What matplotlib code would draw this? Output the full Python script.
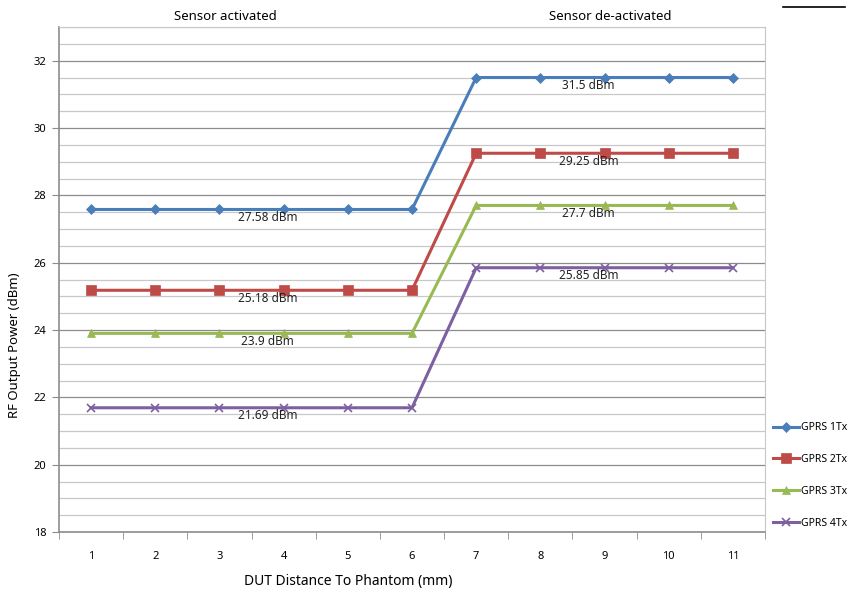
import numpy as np
from matplotlib import pyplot as plt
from matplotlib.ticker import MultipleLocator, FixedLocator

plt.rcParams['font.family'] = ['Noto Sans', 'DejaVu Sans']

distance = [1, 2, 3, 4, 5, 6, 7, 8, 9, 10, 11]
gprs_1tx = [27.58, 27.58, 27.58, 27.58, 27.58, 27.58, 31.5, 31.5, 31.5, 31.5, 31.5]
gprs_2tx = [25.18, 25.18, 25.18, 25.18, 25.18, 25.18, 29.25, 29.25, 29.25, 29.25, 29.25]
gprs_3tx = [23.9, 23.9, 23.9, 23.9, 23.9, 23.9, 27.7, 27.7, 27.7, 27.7, 27.7]
gprs_4tx = [21.69, 21.69, 21.69, 21.69, 21.69, 21.69, 25.85, 25.85, 25.85, 25.85, 25.85]
names = ['GPRS 1Tx', 'GPRS 2Tx', 'GPRS 3Tx', 'GPRS 4Tx']

series = [gprs_1tx, gprs_2tx, gprs_3tx, gprs_4tx]
colors = ['#4A7EBB', '#BE4B48', '#98B954', '#7D60A0']
markers = ['D', 's', '^', 'x']
msizes = [5, 7, 6, 6]

fig = plt.figure(figsize=(8.52, 5.94), dpi=100)
ax = fig.add_axes([59/852, 1-532/594, (765-59)/852, (532-27)/594])

for s, c, m, ms, n in zip(series, colors, markers, msizes, names):
    ax.plot(distance, s, color=c, marker=m, ms=ms, lw=2.2, label=n,
            markeredgewidth=1.2 if m == 'x' else 0.5, zorder=3)

# value labels (one on each level)
for s in series:
    ax.text(3.75, s[0] - 0.05, '%g dBm' % s[0], ha='center', va='top', fontsize=8.5, color='#222222', zorder=4)
    ax.text(8.75, s[-1] - 0.05, '%g dBm' % s[-1], ha='center', va='top', fontsize=8.5, color='#222222', zorder=4)

ax.set_xlim(0.5, 11.5)
ax.set_ylim(18, 33)
ax.yaxis.set_major_locator(MultipleLocator(2))
ax.yaxis.set_minor_locator(MultipleLocator(0.5))
ax.grid(which='major', axis='y', color='#8c8c8c', lw=0.9, zorder=0)
ax.grid(which='minor', axis='y', color='#c8c8c8', lw=0.9, zorder=0)
ax.set_yticks([18, 20, 22, 24, 26, 28, 30, 32])
ax.set_yticklabels(['18', '20', '22', '24', '26', '28', '30', '32'])

ax.set_xticks(distance)
ax.set_xticklabels([str(d) for d in distance])
ax.xaxis.set_minor_locator(FixedLocator(np.arange(0.5, 11.6, 1)))
ax.tick_params(axis='x', which='major', length=0, pad=14, labelsize=8)
ax.tick_params(axis='x', which='minor', length=5, color='#8c8c8c', direction='out')
ax.tick_params(axis='y', which='major', length=5, color='#8c8c8c', labelsize=8, pad=4)
ax.tick_params(axis='y', which='minor', length=0)

for side in ['top', 'right']:
    ax.spines[side].set_color('#c8c8c8')
for side in ['left', 'bottom']:
    ax.spines[side].set_color('#8c8c8c')
    ax.spines[side].set_linewidth(1.2)

fig.text(225/852, 1-17/594, 'Sensor activated', ha='center', va='center', fontsize=9.5)
fig.text(610/852, 1-17/594, 'Sensor de-activated', ha='center', va='center', fontsize=9.5)
fig.text(348/852, 1-582/594, 'DUT Distance To Phantom (mm)', ha='center', va='center', fontsize=10, fontweight='semibold')
fig.text(15/852, 1-345/594, 'RF Output Power (dBm)', ha='center', va='center', rotation=90, fontsize=9.5)
fig.add_artist(plt.Line2D([783/852, 845/852], [1-7/594, 1-7/594], color='black', lw=1.2))

fig.legend(loc='upper left', bbox_to_anchor=(768/852, 1-417/594), frameon=False,
           fontsize=7.5, handlelength=2.5, handletextpad=0.2, labelspacing=2.0, borderpad=0)

fig.savefig('out.png', dpi=100)
